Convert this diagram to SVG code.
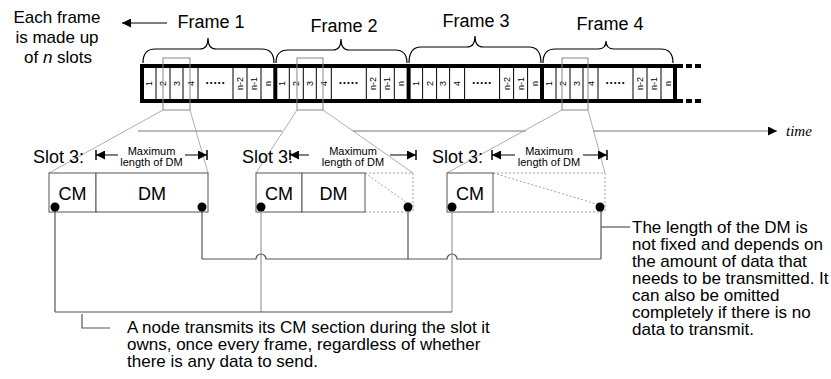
<svg xmlns="http://www.w3.org/2000/svg" width="831" height="379" viewBox="0 0 831 379">
<defs>
<style>
.t{font-family:"Liberation Sans",Arial,sans-serif;fill:#000}
.big{font-size:18px}
.lbl{font-size:17px}
.sm{font-size:11px}
.cell{font-size:9px;text-anchor:middle;dominant-baseline:central}
.thick{stroke:#000;stroke-width:4;fill:none}
.div{stroke:#000;stroke-width:1}
.hl{stroke:#888;stroke-width:1;fill:none}
.trap{stroke:#999;stroke-width:0.8;fill:none}
.brace{stroke:#000;stroke-width:1.2;fill:none}
.box{stroke:#555;stroke-width:1;fill:#fff}
.dot{stroke:#888;stroke-width:0.8;stroke-dasharray:2 2;fill:none}
.dk{stroke:#555;stroke-width:1.2;fill:none}
.lt{stroke:#aaa;stroke-width:1.4;fill:none}
</style>
<marker id="ah" viewBox="0 0 10 10" refX="10" refY="5" markerWidth="9" markerHeight="9" markerUnits="userSpaceOnUse" orient="auto"><path d="M0,0 L10,5 L0,10 z" fill="#000"/></marker>
<g id="cells">
<line class="div" x1="14" y1="0" x2="14" y2="35"/>
<line class="div" x1="28" y1="0" x2="28" y2="35"/>
<line class="div" x1="41" y1="0" x2="41" y2="35"/>
<line class="div" x1="56" y1="0" x2="56" y2="35"/>
<line class="div" x1="91" y1="0" x2="91" y2="35"/>
<line class="div" x1="105" y1="0" x2="105" y2="35"/>
<line class="div" x1="119" y1="0" x2="119" y2="35"/>
<text class="t cell" transform="translate(7,17.5) rotate(-90)">1</text>
<text class="t cell" transform="translate(21,17.5) rotate(-90)">2</text>
<text class="t cell" transform="translate(34.5,17.5) rotate(-90)">3</text>
<text class="t cell" transform="translate(48.5,17.5) rotate(-90)">4</text>
<text class="t" x="73.5" y="21" font-size="12" text-anchor="middle" font-weight="bold">·····</text>
<text class="t cell" transform="translate(98,17.5) rotate(-90)">n-2</text>
<text class="t cell" transform="translate(112,17.5) rotate(-90)">n-1</text>
<text class="t cell" transform="translate(126,17.5) rotate(-90)">n</text>
</g>
</defs>
<rect width="831" height="379" fill="#fff"/>

<g id="legend">
<text class="t lbl" text-anchor="middle"><tspan x="57" y="23">Each frame</tspan><tspan x="57" y="43">is made up</tspan><tspan x="58" y="63">of <tspan font-style="italic">n</tspan> slots</tspan></text>
<line x1="167" y1="23" x2="122" y2="23" stroke="#000" stroke-width="1.2" marker-end="url(#ah)"/>
</g>

<g id="frames">
<text class="t big" x="211" y="28" text-anchor="middle">Frame 1</text>
<text class="t big" x="344" y="32" text-anchor="middle">Frame 2</text>
<text class="t big" x="476" y="27" text-anchor="middle">Frame 3</text>
<text class="t big" x="610" y="30" text-anchor="middle">Frame 4</text>
<path class="brace" d="M143,63 Q143,49 155,49 L200,49 Q208,49 208,38 Q208,49 216,49 L262,49 Q274,49 274,63"/>
<path class="brace" d="M276,63 Q276,50 288,50 L333,50 Q341,50 341,39 Q341,50 349,50 L395,50 Q407,50 407,63"/>
<path class="brace" d="M409,63 Q409,47 421,47 L467,47 Q475,47 475,36 Q475,47 483,47 L529,47 Q541,47 541,63"/>
<path class="brace" d="M543,63 Q543,49 555,49 L598,49 Q606,49 606,41 Q606,49 614,49 L661,49 Q673,49 673,63"/>
</g>

<g id="strip">
<use href="#cells" x="142" y="66"/>
<use href="#cells" x="275.3" y="66"/>
<use href="#cells" x="408.6" y="66"/>
<use href="#cells" x="542" y="66"/>
<rect class="thick" x="142" y="66" width="533" height="35"/>
<line class="thick" x1="275.3" y1="66" x2="275.3" y2="101"/>
<line class="thick" x1="408.6" y1="66" x2="408.6" y2="101"/>
<line class="thick" x1="542" y1="66" x2="542" y2="101"/>
<line x1="677" y1="66" x2="702" y2="66" stroke="#000" stroke-width="4" stroke-dasharray="6 3"/>
<line x1="677" y1="101" x2="702" y2="101" stroke="#000" stroke-width="4" stroke-dasharray="6 3"/>
<rect class="hl" x="163" y="58" width="27" height="52"/>
<rect class="hl" x="297" y="58" width="26" height="52"/>
<rect class="hl" x="562" y="58" width="26" height="52"/>
</g>

<g id="time">
<line x1="138" y1="131" x2="282" y2="131" stroke="#777" stroke-width="1"/>
<line x1="353" y1="131" x2="526" y2="131" stroke="#777" stroke-width="1"/>
<line x1="593" y1="131" x2="777" y2="131" stroke="#777" stroke-width="1" marker-end="url(#ah)"/>
<text x="786" y="136" font-family="'Liberation Serif','Times New Roman',serif" font-style="italic" font-size="15">time</text>
</g>

<g id="zoomlines">
<line class="trap" x1="163" y1="110" x2="49" y2="173"/>
<line class="trap" x1="190" y1="110" x2="208" y2="173"/>
<line class="trap" x1="297" y1="110" x2="256" y2="173"/>
<line class="trap" x1="323" y1="110" x2="413" y2="173"/>
<line class="trap" x1="562" y1="110" x2="447" y2="173"/>
<line class="trap" x1="588" y1="110" x2="605" y2="173"/>
</g>

<g id="slot1">
<text class="t big" x="33" y="163">Slot 3:</text>
<line x1="96" y1="150" x2="96" y2="160" stroke="#000" stroke-width="1.5"/>
<line x1="118" y1="155" x2="96" y2="155" stroke="#000" stroke-width="1" marker-end="url(#ah)"/>
<line x1="207" y1="150" x2="207" y2="160" stroke="#000" stroke-width="1.5"/>
<line x1="185" y1="155" x2="207" y2="155" stroke="#000" stroke-width="1" marker-end="url(#ah)"/>
<text class="t sm" text-anchor="middle"><tspan x="151.5" y="155">Maximum</tspan><tspan x="151.5" y="166">length of DM</tspan></text>
<rect class="box" x="49" y="173" width="47" height="39"/>
<rect class="box" x="96" y="173" width="112" height="39"/>
<text class="t big" x="72.5" y="200" text-anchor="middle">CM</text>
<text class="t big" x="152" y="200" text-anchor="middle">DM</text>
</g>

<g id="slot2">
<text class="t big" x="242" y="163">Slot 3:</text>
<line x1="290" y1="150" x2="290" y2="160" stroke="#000" stroke-width="1.5"/>
<line x1="309" y1="155" x2="290" y2="155" stroke="#000" stroke-width="1" marker-end="url(#ah)"/>
<line x1="416" y1="150" x2="416" y2="160" stroke="#000" stroke-width="1.5"/>
<line x1="390" y1="155" x2="416" y2="155" stroke="#000" stroke-width="1" marker-end="url(#ah)"/>
<text class="t sm" text-anchor="middle"><tspan x="353" y="155">Maximum</tspan><tspan x="353" y="166">length of DM</tspan></text>
<line class="dot" x1="365" y1="173" x2="413" y2="173"/>
<line class="dot" x1="365" y1="212" x2="413" y2="212"/>
<line class="dot" x1="413" y1="173" x2="413" y2="212"/>
<line class="dot" x1="365" y1="173" x2="410" y2="205"/>
<rect class="box" x="256" y="173" width="46" height="39"/>
<rect class="box" x="302" y="173" width="63" height="39"/>
<text class="t big" x="279" y="200" text-anchor="middle">CM</text>
<text class="t big" x="333.5" y="200" text-anchor="middle">DM</text>
</g>

<g id="slot3">
<text class="t big" x="432" y="163">Slot 3:</text>
<line x1="492" y1="150" x2="492" y2="160" stroke="#000" stroke-width="1.5"/>
<line x1="515" y1="155" x2="492" y2="155" stroke="#000" stroke-width="1" marker-end="url(#ah)"/>
<line x1="607" y1="150" x2="607" y2="160" stroke="#000" stroke-width="1.5"/>
<line x1="583" y1="155" x2="607" y2="155" stroke="#000" stroke-width="1" marker-end="url(#ah)"/>
<text class="t sm" text-anchor="middle"><tspan x="549" y="155">Maximum</tspan><tspan x="549" y="166">length of DM</tspan></text>
<line class="dot" x1="493" y1="173" x2="605" y2="173"/>
<line class="dot" x1="493" y1="212" x2="605" y2="212"/>
<line class="dot" x1="605" y1="173" x2="605" y2="212"/>
<line class="dot" x1="493" y1="173" x2="600" y2="205"/>
<rect class="box" x="447" y="173" width="46" height="39"/>
<text class="t big" x="470" y="200" text-anchor="middle">CM</text>
</g>

<g id="connectors">
<line class="lt" x1="261" y1="207" x2="261" y2="312"/>
<line class="lt" x1="452" y1="207" x2="452" y2="312"/>
<line class="dk" x1="55" y1="207" x2="55" y2="312"/>
<line class="dk" x1="55" y1="312" x2="452" y2="312"/>
<polyline class="dk" points="82,314 82,328 110,328"/>
<line class="dk" x1="202" y1="207" x2="202" y2="259"/>
<line class="dk" x1="408" y1="207" x2="408" y2="259"/>
<line class="dk" x1="601" y1="207" x2="601" y2="259"/>
<path class="dk" d="M202,259 L256,259 A5,5 0 0 1 266,259 L447,259 A5,5 0 0 1 457,259 L601,259"/>
<line class="dk" x1="601" y1="227" x2="630" y2="227"/>
<circle cx="55" cy="207" r="4.5" fill="#000"/>
<circle cx="202" cy="207" r="4.5" fill="#000"/>
<circle cx="261" cy="207" r="4.5" fill="#000"/>
<circle cx="408" cy="207" r="4.5" fill="#000"/>
<circle cx="452" cy="207" r="4.5" fill="#000"/>
<circle cx="600" cy="207" r="4.5" fill="#000"/>
</g>

<g id="note-dm">
<text class="t lbl"><tspan x="632" y="233">The length of the DM is</tspan><tspan x="632" y="250">not fixed and depends on</tspan><tspan x="632" y="267">the amount of data that</tspan><tspan x="632" y="284">needs to be transmitted. It</tspan><tspan x="632" y="301">can also be omitted</tspan><tspan x="632" y="318">completely if there is no</tspan><tspan x="632" y="335">data to transmit.</tspan></text>
</g>

<g id="note-cm">
<text class="t lbl"><tspan x="127" y="333">A node transmits its CM section during the slot it</tspan><tspan x="127" y="350">owns, once every frame, regardless of whether</tspan><tspan x="127" y="367">there is any data to send.</tspan></text>
</g>
</svg>
